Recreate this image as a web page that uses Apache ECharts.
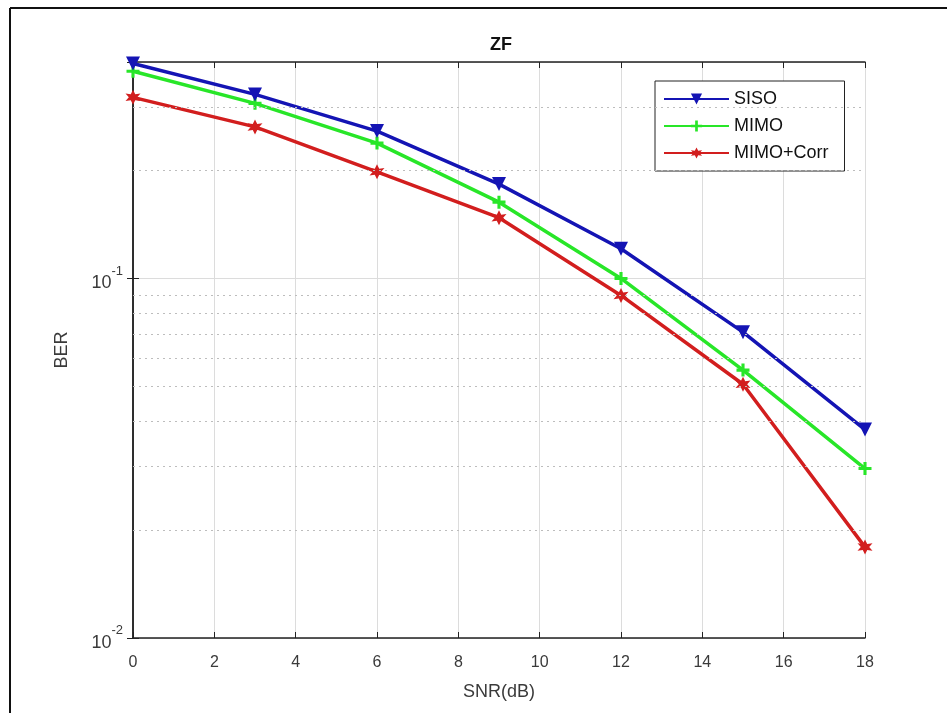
<!DOCTYPE html>
<html>
<head>
<meta charset="utf-8">
<script src="https://cdn.jsdelivr.net/npm/echarts@6/dist/echarts.min.js"></script>
<style>
html,body{margin:0;padding:0;background:#fff;}
#c{width:947px;height:713px;}
</style>
</head>
<body>
<div id="c"></div>
<script>
const snr = [0, 3, 6, 9, 12, 15, 18];
const siso = [0.396, 0.325, 0.257, 0.183, 0.121, 0.0709, 0.038];
const mimo = [0.377, 0.307, 0.238, 0.163, 0.100, 0.0556, 0.0296];
const mimoCorr = [0.319, 0.264, 0.198, 0.1476, 0.0897, 0.0508, 0.0179];
const minorGrid = [0.02, 0.03, 0.04, 0.05, 0.06, 0.07, 0.08, 0.09, 0.2, 0.3];
const yRange = [0.01, 0.4];
const xRange = [0, 18];

const pair = (ys) => snr.map((x, i) => [x, ys[i]]);
const font = '"Liberation Sans", Arial, sans-serif';
const labelColor = '#3a3a3a';

function yFmt(v) {
  const l = Math.log10(v);
  if (Math.abs(l - Math.round(l)) < 1e-6) return '{b|10}{s|' + Math.round(l) + '}';
  return '';
}

const chart = echarts.init(document.getElementById('c'), null, {renderer: 'canvas'});
const downTri = 'path://M0,0 L10,0 L5,9 Z';
const plus = 'path://M3.8,0 L6.2,0 L6.2,3.8 L10,3.8 L10,6.2 L6.2,6.2 L6.2,10 L3.8,10 L3.8,6.2 L0,6.2 L0,3.8 L3.8,3.8 Z';
const star = 'path://M5,0 L6.5,3 L10,2.5 L7.8,5 L10,7.5 L6.5,7 L5,10 L3.5,7 L0,7.5 L2.2,5 L0,2.5 L3.5,3 Z';

chart.setOption({
  animation: false,
  backgroundColor: '#fff',
  title: {
    text: 'ZF', left: 485, top: 31,
    textStyle: {fontFamily: font, fontSize: 18, fontWeight: 'bold', color: '#111'}
  },
  grid: {left: 133, right: 82, top: 62, bottom: 75, containLabel: false},
  legend: {
    orient: 'vertical', left: 655, top: 81,
    data: ['SISO', 'MIMO', 'MIMO+Corr'],
    itemWidth: 65, itemHeight: 14, itemGap: 9,
    padding: [9, 16, 9, 8],
    borderColor: '#222', borderWidth: 1, backgroundColor: '#fff',
    textStyle: {fontFamily: font, fontSize: 18, color: '#111'}
  },
  xAxis: [{
    type: 'value', min: xRange[0], max: xRange[1], interval: 2,
    name: 'SNR(dB)', nameLocation: 'middle', nameGap: 45,
    nameTextStyle: {fontFamily: font, fontSize: 18, color: labelColor},
    axisLine: {lineStyle: {color: '#222', width: 1.5}},
    axisTick: {inside: true, length: 6, lineStyle: {color: '#222'}},
    axisLabel: {fontFamily: font, fontSize: 16, color: labelColor, margin: 17},
    splitLine: {show: true, lineStyle: {color: '#dcdcdc', width: 1}}
  }, {
    type: 'value', position: 'top', min: xRange[0], max: xRange[1], interval: 2,
    axisLine: {show: true, onZero: false, lineStyle: {color: '#222', width: 1.5}},
    axisTick: {inside: true, length: 6, lineStyle: {color: '#222'}},
    axisLabel: {show: false}, splitLine: {show: false}
  }],
  yAxis: [{
    type: 'log', logBase: 10, min: yRange[0], max: yRange[1],
    name: 'BER', nameLocation: 'middle', nameGap: 62, nameRotate: 90,
    nameTextStyle: {fontFamily: font, fontSize: 18, color: labelColor},
    axisLine: {show: true, lineStyle: {color: '#222', width: 1.5}},
    axisTick: {inside: true, length: 6, lineStyle: {color: '#222'}},
    axisLabel: {
      formatter: yFmt, showMaxLabel: false, margin: 10,
      rich: {
        b: {fontFamily: font, fontSize: 18, color: labelColor, padding: [10, 0, 0, 0]},
        s: {fontFamily: font, fontSize: 13, color: labelColor, verticalAlign: 'top', padding: [0, 0, 4, 0]}
      }
    },
    splitLine: {show: true, lineStyle: {color: '#dcdcdc', width: 1}}
  }, {
    type: 'log', logBase: 10, min: yRange[0], max: yRange[1], position: 'right',
    axisLine: {show: true, lineStyle: {color: '#222', width: 1.5}},
    axisTick: {inside: true, length: 6, lineStyle: {color: '#222'}},
    axisLabel: {show: false}, splitLine: {show: false}
  }],
  series: [{
    name: 'grid', type: 'line', data: [], z: 1, silent: true,
    markLine: {
      silent: true, symbol: ['none', 'none'], label: {show: false},
      lineStyle: {type: [2, 4], color: '#bdbdbd', width: 1},
      emphasis: {disabled: true},
      data: minorGrid.map(v => ({yAxis: v}))
    }
  }, {
    name: 'SISO', type: 'line', data: pair(siso), z: 4,
    symbol: downTri, symbolSize: 14, showAllSymbol: true,
    itemStyle: {color: '#1414b4'}, lineStyle: {color: '#1414b4', width: 3.5}
  }, {
    name: 'MIMO', type: 'line', data: pair(mimo), z: 3,
    symbol: plus, symbolSize: 13,
    itemStyle: {color: '#28e628'}, lineStyle: {color: '#28e628', width: 3.5}
  }, {
    name: 'MIMO+Corr', type: 'line', data: pair(mimoCorr), z: 3,
    symbol: star, symbolSize: 15,
    itemStyle: {color: '#d21e1e'}, lineStyle: {color: '#d21e1e', width: 3.5}
  }],
  graphic: [
    {type: 'line', shape: {x1: 10, y1: 8, x2: 947, y2: 8}, style: {stroke: '#111', lineWidth: 2}, silent: true},
    {type: 'line', shape: {x1: 10, y1: 8, x2: 10, y2: 713}, style: {stroke: '#111', lineWidth: 2}, silent: true}
  ]
});
</script>
</body>
</html>
